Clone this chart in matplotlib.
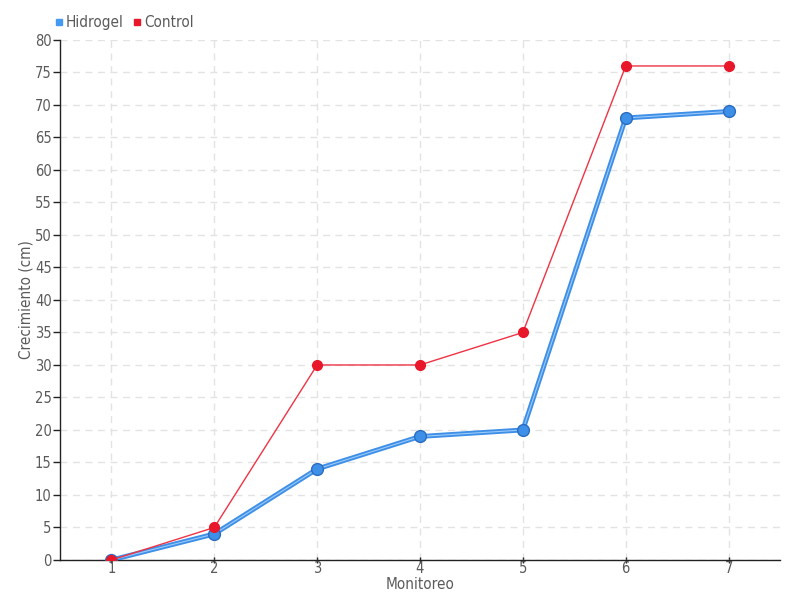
import matplotlib.pyplot as plt

monitoreo = [1, 2, 3, 4, 5, 6, 7]
hidrogel = [0, 4, 14, 19, 20, 68, 69]
control = [0, 5, 30, 30, 35, 76, 76]
y_ticks = list(range(0, 81, 5))

plt.rcParams['font.family'] = ['DejaVu Sans']
plt.rcParams['font.stretch'] = 'condensed'

text_col = '#5a5a5a'
blue = '#3d8fe8'
red = '#e8182a'

fig = plt.figure(figsize=(8, 6), dpi=100)
ax = fig.add_axes([0.075, 0.0667, 0.9, 0.8667])

# blue series: thick line with lighter centre
ax.plot(monitoreo, hidrogel, color=blue, lw=3.5, zorder=3, solid_capstyle='round')
ax.plot(monitoreo, hidrogel, color='#9ccaf7', lw=0.8, zorder=3.1)
ax.plot(monitoreo, hidrogel, linestyle='none', marker='o', ms=8.5,
        markerfacecolor=blue, markeredgecolor='#2a6cc0', markeredgewidth=1, zorder=4)

ax.plot(monitoreo, control, color='#ef3345', lw=1, zorder=5)
ax.plot(monitoreo, control, linestyle='none', marker='o', ms=7,
        markerfacecolor=red, markeredgecolor=red, zorder=6)

ax.set_xlim(0.5, 7.5)
ax.set_ylim(0, 80)
ax.set_xticks(monitoreo)
ax.set_yticks(y_ticks)
ax.grid(True, color='#e3e3e3', linestyle=(0, (5, 4)), lw=1)
ax.set_axisbelow(True)

for s in ['top', 'right']:
    ax.spines[s].set_visible(False)
for s in ['left', 'bottom']:
    ax.spines[s].set_color('#222222')
    ax.spines[s].set_linewidth(1)

ax.tick_params(axis='y', colors='#222222', labelcolor=text_col, labelsize=10.5,
               length=5, width=1, direction='out', pad=1)
ax.tick_params(axis='x', colors='#222222', labelcolor=text_col, labelsize=10.5,
               length=4, width=1, direction='inout', pad=-1)

ax.set_xlabel('Monitoreo', color=text_col, fontsize=11, va='center')
ax.xaxis.set_label_coords(0.5, -0.047)
ax.set_ylabel('Crecimiento (cm)', color=text_col, fontsize=11, va='center')
ax.yaxis.set_label_coords(-0.047, 0.5)

ax.plot([], [], linestyle='none', marker='s', ms=5, color='#4499f0', label='Hidrogel')
ax.plot([], [], linestyle='none', marker='s', ms=5, color=red, label='Control')
handles, labels = ax.get_legend_handles_labels()
fig.legend(handles[-2:], labels[-2:], loc='upper left', bbox_to_anchor=(0.052, 0.998),
           ncol=2, frameon=False, fontsize=11, handlelength=0.5, handletextpad=0.2,
           columnspacing=0.6, labelcolor=text_col)

fig.savefig('out.png', dpi=100)
